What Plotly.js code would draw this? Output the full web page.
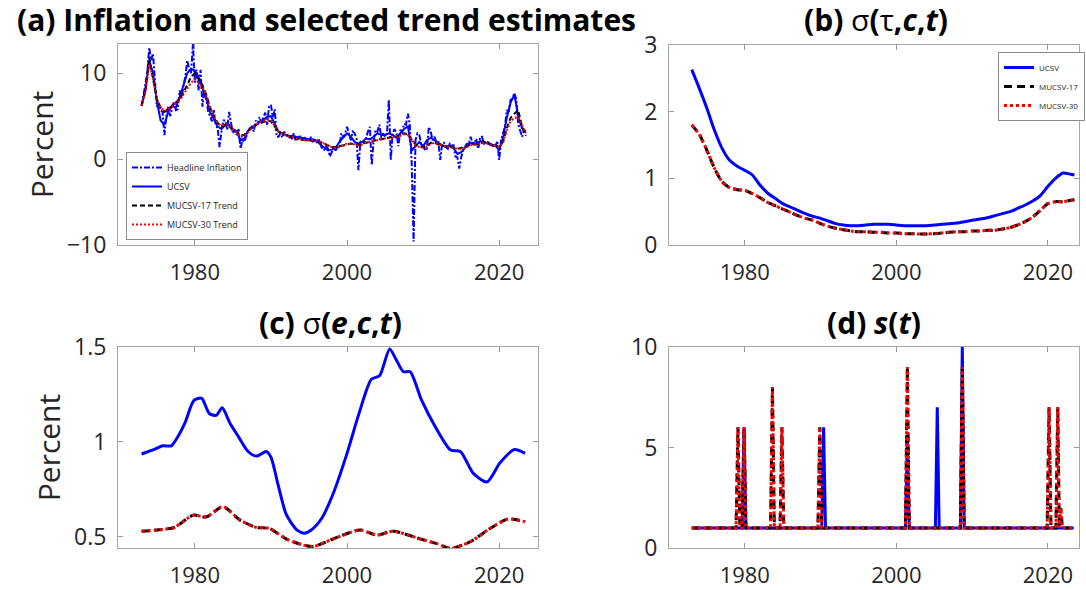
<!DOCTYPE html>
<html>
<head>
<meta charset="utf-8">
<script src="https://cdn.plot.ly/plotly-3.0.1.min.js"></script>
<style>
html,body{margin:0;padding:0;background:#fff;}
#chart{width:1086px;height:590px;}
</style>
</head>
<body>
<div id="chart"></div>
<script>
// ---------- Panel (a): quarterly headline inflation, 1973Q1 .. 2023Q3 ----------
const headlineStart = 1973;
const headline = [
  6.2, 7.4, 8.5, 10.0,   // 1973
  13.0, 11.5, 12.3, 9.2, // 1974
  6.1, 6.5, 5.7, 5.5,    // 1975
  2.8, 5.0, 6.1, 5.0,    // 1976
  6.0, 6.7, 5.7, 5.8,    // 1977
  8.0, 7.1, 8.5, 9.6,    // 1978
  11.5, 10.5, 10.0, 13.4,// 1979
  8.9, 10.4, 8.0, 10.4,  // 1980
  6.1, 8.0, 7.2, 5.5,    // 1981
  5.0, 4.4, 5.7, 3.9,    // 1982
  3.6, 1.4, 3.2, 4.5,    // 1983
  4.5, 3.4, 5.5, 4.2,    // 1984
  3.0, 3.4, 2.8, 3.5,    // 1985
  1.2, 2.2, 2.0, 2.6,    // 1986
  3.4, 3.6, 3.8, 3.2,    // 1987
  4.5, 4.0, 4.9, 4.2,    // 1988
  4.9, 5.4, 4.0, 6.1,    // 1989
  6.3, 4.9, 5.8, 2.6,    // 1990
  2.6, 3.0, 2.5, 3.2,    // 1991
  2.8, 2.5, 2.6, 2.4,    // 1992
  3.0, 2.2, 2.5, 2.8,    // 1993
  2.3, 2.6, 2.4, 2.2,    // 1994
  2.2, 2.5, 2.1, 2.3,    // 1995
  2.0, 2.4, 1.8, 1.1,    // 1996
  1.1, 1.5, 1.2, 0.3,    // 1997
  0.8, 1.4, 1.0, 1.4,    // 1998
  1.4, 3.0, 2.5, 3.0,    // 1999
  3.75, 3.0, 2.2, 3.2,   // 2000
  3.0, 2.4, -1.3, 2.0,   // 2001
  2.2, 1.8, 2.6, 3.2,    // 2002
  3.75, -0.7, 2.2, 3.4,  // 2003
  3.2, 4.0, 2.5, 3.0,    // 2004
  2.6, 3.0, 6.9, -0.1,   // 2005
  3.0, 3.5, 3.0, 1.5,    // 2006
  3.4, 3.2, 4.1, 4.0,    // 2007
  5.3, 4.0, -0.5, -9.6,  // 2008
  2.2, 3.0, 2.8, 1.8,    // 2009
  1.8, 1.0, 1.2, 3.75,   // 2010
  3.2, 2.2, 2.6, 2.0,    // 2011
  2.0, -0.1, 1.8, 1.9,   // 2012
  1.4, 1.2, 1.8, 1.6,    // 2013
  1.6, 0.3, 0.2, -1.1,   // 2014
  0.2, 1.0, 1.4, 1.8,    // 2015
  1.8, 2.6, 1.8, 2.0,    // 2016
  2.2, 1.2, 2.6, 2.6,    // 2017
  1.8, 2.0, 2.0, 1.8,    // 2018
  1.4, 1.6, 1.6, 2.0,    // 2019
  -0.1, 2.2, 3.0, 3.75,  // 2020
  5.7, 5.5, 6.9, 7.0,    // 2021
  7.7, 6.9, 4.1, 3.4,    // 2022
  2.6, 3.4, 3.0          // 2023
];

// semiannual trend estimates, 1973H1 .. 2023H2
const trendStart = 1973;
const ucsvTrend = [
  6.2, 8.0, 11.5, 10.0, 6.8, 4.5, 4.0, 5.5, 6.2, 6.0,
  7.2, 8.5, 10.0, 10.5, 10.3, 9.5, 8.3, 7.0, 5.5, 4.6,
  3.8, 3.5, 4.0, 4.0, 3.5, 3.2, 2.2, 2.4, 3.3, 3.6,
  4.0, 4.3, 4.6, 4.9, 5.0, 4.0, 3.2, 3.0, 2.8, 2.7,
  2.7, 2.5, 2.5, 2.4, 2.3, 2.3, 2.1, 1.7, 1.4, 1.0,
  1.1, 1.3, 2.0, 2.5, 3.0, 2.6, 2.0, 1.8, 2.0, 2.4,
  2.3, 2.6, 3.0, 2.8, 2.8, 3.0, 2.8, 2.5, 3.0, 3.5,
  3.8, 1.0, 1.5, 2.0, 1.5, 2.2, 2.5, 2.2, 1.8, 1.6,
  1.4, 1.6, 1.3, 0.6, 0.8, 1.3, 1.8, 1.9, 1.8, 2.1,
  2.0, 1.8, 1.6, 1.6, 1.0, 2.5, 4.8, 6.6, 7.5, 5.0,
  3.6, 3.2
];
const mucsv17Trend = [
  6.2, 8.0, 11.8, 9.5, 7.0, 6.0, 5.5, 5.8, 6.2, 6.6,
  7.0, 7.8, 8.6, 9.6, 10.0, 9.3, 8.6, 7.5, 6.0, 5.0,
  4.2, 3.8, 4.0, 3.8, 3.4, 3.2, 2.8, 2.8, 3.3, 3.6,
  4.0, 4.2, 4.3, 4.5, 4.4, 3.8, 3.2, 3.0, 2.8, 2.6,
  2.5, 2.3, 2.3, 2.2, 2.2, 2.1, 2.0, 2.0, 1.8, 1.6,
  1.4, 1.4, 1.5, 1.6, 1.7, 1.8, 1.7, 1.7, 1.8, 1.9,
  2.0, 2.1, 2.3, 2.3, 2.4, 2.5, 2.6, 2.6, 2.8, 3.0,
  2.9, 2.3, 1.7, 1.5, 1.4, 1.5, 1.9, 1.9, 1.7, 1.6,
  1.5, 1.5, 1.3, 1.2, 1.3, 1.4, 1.6, 1.7, 1.7, 1.8,
  2.0, 1.9, 1.7, 1.6, 1.4, 2.0, 3.6, 4.8, 5.3, 5.7,
  3.8, 2.7
];
const mucsv30Trend = [
  6.2, 7.8, 11.0, 9.3, 7.0, 6.0, 5.6, 5.8, 6.1, 6.5,
  6.9, 7.5, 8.2, 8.9, 9.3, 8.9, 8.4, 7.4, 6.0, 5.0,
  4.2, 3.9, 4.1, 3.9, 3.4, 3.1, 2.6, 2.7, 3.2, 3.6,
  4.0, 4.3, 4.4, 4.6, 4.5, 3.8, 3.2, 3.0, 2.8, 2.6,
  2.5, 2.3, 2.3, 2.2, 2.2, 2.2, 2.1, 2.0, 1.8, 1.6,
  1.4, 1.3, 1.4, 1.6, 1.8, 1.8, 1.7, 1.6, 1.7, 1.9,
  2.0, 2.1, 2.2, 2.3, 2.4, 2.5, 2.5, 2.6, 2.7, 2.9,
  2.8, 2.3, 1.6, 1.4, 1.3, 1.4, 1.8, 1.9, 1.7, 1.6,
  1.5, 1.4, 1.3, 1.2, 1.2, 1.3, 1.5, 1.7, 1.7, 1.8,
  1.9, 1.8, 1.6, 1.5, 1.4, 1.9, 3.3, 4.4, 4.8, 4.9,
  4.0, 3.0
];

// ---------- Panel (b): sigma(tau,c,t), annual ----------
const tauYears = [1973,1974,1975,1976,1977,1978,1979,1980,1981,1982,1983,1984,1985,1986,1987,1988,1989,1990,
  1991,1992,1993,1994,1995,1996,1997,1998,1999,2000,2001,2002,2003,2004,2005,2006,2007,2008,2009,2010,
  2011,2012,2013,2014,2015,2016,2017,2018,2019,2020,2021,2022,2023,2023.5];
const tauUCSV = [2.63,2.35,2.05,1.72,1.45,1.27,1.18,1.12,1.05,0.90,0.78,0.70,0.62,0.57,0.52,0.47,0.43,0.40,
  0.36,0.32,0.30,0.29,0.29,0.30,0.31,0.31,0.31,0.30,0.29,0.29,0.29,0.29,0.30,0.31,0.32,0.33,0.35,0.37,
  0.39,0.41,0.44,0.47,0.50,0.55,0.60,0.66,0.74,0.88,1.00,1.08,1.06,1.05];
const tauMUCSV17 = [1.80,1.66,1.42,1.15,0.95,0.86,0.83,0.82,0.77,0.71,0.64,0.59,0.54,0.49,0.44,0.40,0.37,0.32,
  0.28,0.25,0.23,0.21,0.20,0.20,0.19,0.19,0.18,0.18,0.17,0.17,0.165,0.165,0.17,0.18,0.19,0.20,0.20,0.21,
  0.21,0.22,0.22,0.24,0.26,0.30,0.35,0.42,0.52,0.62,0.65,0.65,0.67,0.68];
const tauMUCSV30 = [1.80,1.66,1.42,1.15,0.95,0.86,0.83,0.82,0.77,0.71,0.64,0.59,0.54,0.49,0.44,0.40,0.37,0.32,
  0.28,0.25,0.23,0.21,0.20,0.20,0.19,0.19,0.18,0.18,0.17,0.17,0.165,0.165,0.17,0.18,0.19,0.20,0.20,0.21,
  0.21,0.22,0.22,0.24,0.26,0.30,0.35,0.42,0.52,0.62,0.65,0.65,0.67,0.68];

// ---------- Panel (c): sigma(e,c,t) ----------
const epsUCSVYears = [1973,1974.5,1975.8,1976.9,1977.8,1978.7,1979.9,1980.9,1981.9,1982.8,1983.6,1984.6,1985.7,
  1987,1988.1,1989.4,1990,1991,1992,1993.4,1994.4,1995.3,1996.7,1998.2,2000,2001.5,2003.2,2004.3,2005.6,
  2006.5,2007.4,2008.3,2009.8,2011.6,2013.6,2014.9,2016.6,2018.4,2020.1,2022,2023.4];
const epsUCSV = [0.937,0.958,0.98,0.98,1.03,1.10,1.22,1.23,1.15,1.14,1.18,1.10,1.03,
  0.95,0.926,0.95,0.92,0.765,0.62,0.537,0.52,0.537,0.60,0.73,0.94,1.14,1.33,1.35,1.49,
  1.43,1.37,1.37,1.22,1.08,0.958,0.95,0.835,0.79,0.89,0.96,0.94];
const epsMUCSVYears = [1973,1975.8,1977.3,1979.8,1981.5,1983.7,1985.9,1988.1,1989.8,1992,1994.2,1995.6,1998.2,
  2001.7,2003.9,2006.1,2009.6,2011.8,2013.6,2016.2,2018.8,2021.2,2023.4];
const epsMUCSV17 = [0.53,0.54,0.55,0.615,0.605,0.66,0.59,0.55,0.545,0.49,0.458,0.45,0.49,
  0.537,0.51,0.53,0.49,0.465,0.44,0.475,0.545,0.595,0.58];
const epsMUCSV30 = [0.53,0.54,0.55,0.615,0.605,0.66,0.59,0.55,0.545,0.49,0.458,0.45,0.49,
  0.537,0.51,0.53,0.49,0.465,0.44,0.475,0.545,0.595,0.58];

// ---------- Panel (d): s(t) outlier scale ----------
const sUCSVYears = [1973,1979.65,1979.9,1980.15,1990.15,1990.4,1990.65,2001.2,2001.45,2001.7,2005.15,2005.4,2005.65,
  2008.45,2008.7,2008.95,2023.4];
const sUCSV = [1,1,6,1,1,6,1,1,5.5,1,1,7,1,1,10,1,1];
const sMUCSVYears = [1973,1978.85,1979.1,1979.35,1979.65,1979.9,1980.15,1983.4,1983.65,1983.9,1984.65,1984.9,1985.15,
  1989.65,1989.9,1990.15,2001.2,2001.45,2001.7,2008.45,2008.7,2008.95,2019.9,2020.15,2020.4,2021.05,2021.3,
  2021.5,2021.7,2021.9,2023.4];
const sMUCSV17 = [1,1,6,1,1,6,1,1,8,1,1,6,1,1,6,1,1,9,1,1,9,1,1,7,1,1,7,1,2,1,1];
const sMUCSV30 = [1,1,6,1,1,6,1,1,8,1,1,6,1,1,6,1,1,9,1,1,9,1,1,7,1,1,7,1,2,1,1];

// ---------- build ----------
const qDates = headline.map((_, i) => headlineStart + i * 0.25);
const hDates = ucsvTrend.map((_, i) => trendStart + i * 0.5);

const BLUE = '#0000ff', BLACK = '#000000', RED = '#ff0000';
const FONT = 'Open Sans, DejaVu Sans, sans-serif';

function ln(color, width, dash, smooth) {
  const l = {color: color, width: width, dash: dash || 'solid'};
  if (smooth) { l.shape = 'spline'; l.smoothing = 0.7; }
  return l;
}

const traces = [
  {x: qDates, y: headline, type: 'scatter', mode: 'lines', name: 'Headline Inflation',
   line: ln(BLUE, 2, '6px,2px,2px,2px'), xaxis: 'x', yaxis: 'y', legend: 'legend'},
  {x: hDates, y: ucsvTrend, type: 'scatter', mode: 'lines', name: 'UCSV',
   line: ln(BLUE, 2, 'solid'), xaxis: 'x', yaxis: 'y', legend: 'legend'},
  {x: hDates, y: mucsv17Trend, type: 'scatter', mode: 'lines', name: 'MUCSV-17 Trend',
   line: ln(BLACK, 2, '5px,3px'), xaxis: 'x', yaxis: 'y', legend: 'legend'},
  {x: hDates, y: mucsv30Trend, type: 'scatter', mode: 'lines', name: 'MUCSV-30 Trend',
   line: ln(RED, 2, '2px,2px'), xaxis: 'x', yaxis: 'y', legend: 'legend'},

  {x: tauYears, y: tauUCSV, type: 'scatter', mode: 'lines', name: 'UCSV',
   line: ln(BLUE, 3, 'solid', true), xaxis: 'x2', yaxis: 'y2', legend: 'legend2'},
  {x: tauYears, y: tauMUCSV17, type: 'scatter', mode: 'lines', name: 'MUCSV-17',
   line: ln(BLACK, 3, '8px,5px', true), xaxis: 'x2', yaxis: 'y2', legend: 'legend2'},
  {x: tauYears, y: tauMUCSV30, type: 'scatter', mode: 'lines', name: 'MUCSV-30',
   line: ln(RED, 3, '3px,3px', true), xaxis: 'x2', yaxis: 'y2', legend: 'legend2'},

  {x: epsUCSVYears, y: epsUCSV, type: 'scatter', mode: 'lines', name: 'UCSV', showlegend: false,
   line: ln(BLUE, 3, 'solid', true), xaxis: 'x3', yaxis: 'y3'},
  {x: epsMUCSVYears, y: epsMUCSV17, type: 'scatter', mode: 'lines', name: 'MUCSV-17', showlegend: false,
   line: ln(BLACK, 3, '8px,5px', true), xaxis: 'x3', yaxis: 'y3'},
  {x: epsMUCSVYears, y: epsMUCSV30, type: 'scatter', mode: 'lines', name: 'MUCSV-30', showlegend: false,
   line: ln(RED, 3, '3px,3px', true), xaxis: 'x3', yaxis: 'y3'},

  {x: sUCSVYears, y: sUCSV, type: 'scatter', mode: 'lines', name: 'UCSV', showlegend: false,
   line: ln(BLUE, 3, 'solid'), xaxis: 'x4', yaxis: 'y4'},
  {x: sMUCSVYears, y: sMUCSV17, type: 'scatter', mode: 'lines', name: 'MUCSV-17', showlegend: false,
   line: ln(BLACK, 3, '8px,5px'), xaxis: 'x4', yaxis: 'y4'},
  {x: sMUCSVYears, y: sMUCSV30, type: 'scatter', mode: 'lines', name: 'MUCSV-30', showlegend: false,
   line: ln(RED, 3, '3px,3px'), xaxis: 'x4', yaxis: 'y4'}
];

const W = 1086, H = 590;
function dx(a, b) { return [a / W, b / W]; }
function dy(top, bottom) { return [(H - bottom) / H, (H - top) / H]; }

function xax(domain, range, anchor) {
  return {domain: domain, range: range, anchor: anchor, tickvals: [1980, 2000, 2020],
    ticks: 'inside', ticklen: 5, tickcolor: '#999', showline: true, linecolor: '#a6a6a6', linewidth: 1,
    mirror: 'ticks', showgrid: false, zeroline: false, ticklabelstandoff: 8,
    tickfont: {family: FONT, size: 22, color: '#262626'}};
}
function yax(domain, range, anchor, tickvals, title) {
  const a = {domain: domain, range: range, anchor: anchor, tickvals: tickvals,
    ticks: 'inside', ticklen: 5, tickcolor: '#999', showline: true, linecolor: '#a6a6a6', linewidth: 1,
    mirror: 'ticks', showgrid: false, zeroline: false, ticklabelstandoff: 6,
    tickfont: {family: FONT, size: 23, color: '#262626'}};
  if (title) a.title = {text: title, font: {family: FONT, size: 30, color: '#262626'}, standoff: 4};
  return a;
}

const layout = {
  width: W, height: H,
  margin: {l: 0, r: 0, t: 0, b: 0},
  paper_bgcolor: '#ffffff', plot_bgcolor: '#ffffff',
  font: {family: FONT, color: '#262626'},
  xaxis: xax(dx(118, 538), [1969.9, 2025.1], 'y'),
  yaxis: yax(dy(44, 245), [-10, 13.4], 'x', [-10, 0, 10], 'Percent'),
  xaxis2: xax(dx(669, 1079), [1970, 2024.1], 'y2'),
  yaxis2: yax(dy(45, 245), [0, 3], 'x2', [0, 1, 2, 3]),
  xaxis3: xax(dx(118, 538), [1969.9, 2025.1], 'y3'),
  yaxis3: yax(dy(347, 548), [0.442, 1.5], 'x3', [0.5, 1, 1.5], 'Percent'),
  xaxis4: xax(dx(669, 1079), [1970, 2024.1], 'y4'),
  yaxis4: yax(dy(347, 548), [0, 10], 'x4', [0, 5, 10]),
  showlegend: true,
  legend: {x: 126 / W, y: (H - 240) / H, xanchor: 'left', yanchor: 'bottom', xref: 'paper', yref: 'paper',
    bgcolor: '#ffffff', bordercolor: '#8c8c8c', borderwidth: 1, itemwidth: 30,
    font: {family: FONT, size: 9, color: '#262626'}, tracegroupgap: 0},
  legend2: {x: 998 / W, y: (H - 52) / H, xanchor: 'left', yanchor: 'top', xref: 'paper', yref: 'paper',
    bgcolor: '#ffffff', bordercolor: '#8c8c8c', borderwidth: 1, itemwidth: 30,
    font: {family: FONT, size: 8, color: '#262626'}, tracegroupgap: 0},
  annotations: [
    {text: '<b>(a) Inflation and selected trend estimates</b>', x: 326 / W, y: (H - 19) / H,
     xref: 'paper', yref: 'paper', showarrow: false, xanchor: 'center', yanchor: 'middle',
     font: {family: FONT, size: 30, color: '#000'}},
    {text: '<b>(b) </b>σ<b>(</b>τ<b>,<i>c</i>,<i>t</i>)</b>', x: 876 / W, y: (H - 19) / H,
     xref: 'paper', yref: 'paper', showarrow: false, xanchor: 'center', yanchor: 'middle',
     font: {family: FONT, size: 30, color: '#000'}},
    {text: '<b>(c) </b>σ<b>(<i>e</i>,<i>c</i>,<i>t</i>)</b>', x: 330 / W, y: (H - 323) / H,
     xref: 'paper', yref: 'paper', showarrow: false, xanchor: 'center', yanchor: 'middle',
     font: {family: FONT, size: 30, color: '#000'}},
    {text: '<b>(d) <i>s</i>(<i>t</i>)</b>', x: 874 / W, y: (H - 323) / H,
     xref: 'paper', yref: 'paper', showarrow: false, xanchor: 'center', yanchor: 'middle',
     font: {family: FONT, size: 30, color: '#000'}}
  ]
};

Plotly.newPlot('chart', traces, layout, {displayModeBar: false, staticPlot: true});
</script>
</body>
</html>
